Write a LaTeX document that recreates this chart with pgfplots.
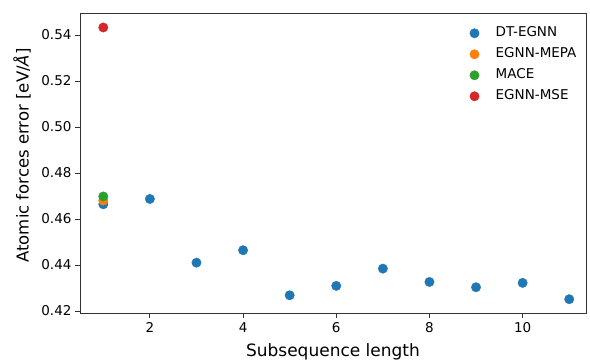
\documentclass[border=0pt]{standalone}
\usepackage{fontspec}
\setmainfont{DejaVu Sans}
\usepackage{pgfplots}
\pgfplotsset{compat=1.18}
\definecolor{tabblue}{HTML}{1F77B4}
\definecolor{taborange}{HTML}{FF7F0E}
\definecolor{tabgreen}{HTML}{2CA02C}
\definecolor{tabred}{HTML}{D62728}
\begin{document}
\begin{tikzpicture}
\useasboundingbox (-80pt,-50pt) rectangle (510pt,313pt);
\begin{axis}[
  at={(0,0)}, anchor=south west,
  scale only axis, width=506pt, height=300pt,
  xmin=0.5, xmax=11.36, ymin=0.4191, ymax=0.5496,
  xtick={2,4,6,8,10}, ytick={0.42,0.44,0.46,0.48,0.50,0.52,0.54},
  yticklabel style={/pgf/number format/fixed, /pgf/number format/fixed zerofill, /pgf/number format/precision=2},
  /pgf/number format/assume math mode=true,
  tick align=outside, tick pos=left, major tick length=5pt,
  ticklabel style={font=\fontsize{13.5}{16}\selectfont, text=black},
  xticklabel style={yshift=-1pt},
  xlabel={Subsequence length}, ylabel={Atomic forces error [eV/\textit{Å}]},
  xlabel style={font=\fontsize{17}{20}\selectfont, at={(axis description cs:0.5,-0.13)}, anchor=center},
  ylabel style={font=\fontsize{16.5}{20}\selectfont, at={(axis description cs:-0.1146,0.525)}, anchor=center},
  axis line style={black!80, line width=0.8pt},
  tick style={black!80, line width=0.8pt},
  legend style={draw=none, fill=none, inner sep=0pt,
    at={(rel axis cs:0.769,0.958)}, anchor=north west,
    font=\fontsize{13.5}{16}\selectfont, row sep=6pt,
    nodes={inner sep=1pt, text height=10pt, text depth=3pt}},
  legend cell align=left,
  legend image code/.code={\draw[#1] plot coordinates {(0pt,0pt)}; \path (-5pt,0pt) (20pt,0pt);},
]
\addplot[only marks, mark=*, mark size=4.7pt, color=tabblue] coordinates {
(1,0.4664) (2,0.4687) (3,0.4410) (4,0.4464) (5,0.4268) (6,0.4309) (7,0.4384) (8,0.4326) (9,0.4303) (10,0.4322) (11,0.4251)};
\addlegendentry{DT-EGNN}
\addplot[only marks, mark=*, mark size=4.7pt, color=taborange] coordinates {(1,0.4680)};
\addlegendentry{EGNN-MEPA}
\addplot[only marks, mark=*, mark size=4.7pt, color=tabgreen] coordinates {(1,0.4698)};
\addlegendentry{MACE}
\addplot[only marks, mark=*, mark size=4.7pt, color=tabred] coordinates {(1,0.5433)};
\addlegendentry{EGNN-MSE}
\end{axis}
\end{tikzpicture}
\end{document}
